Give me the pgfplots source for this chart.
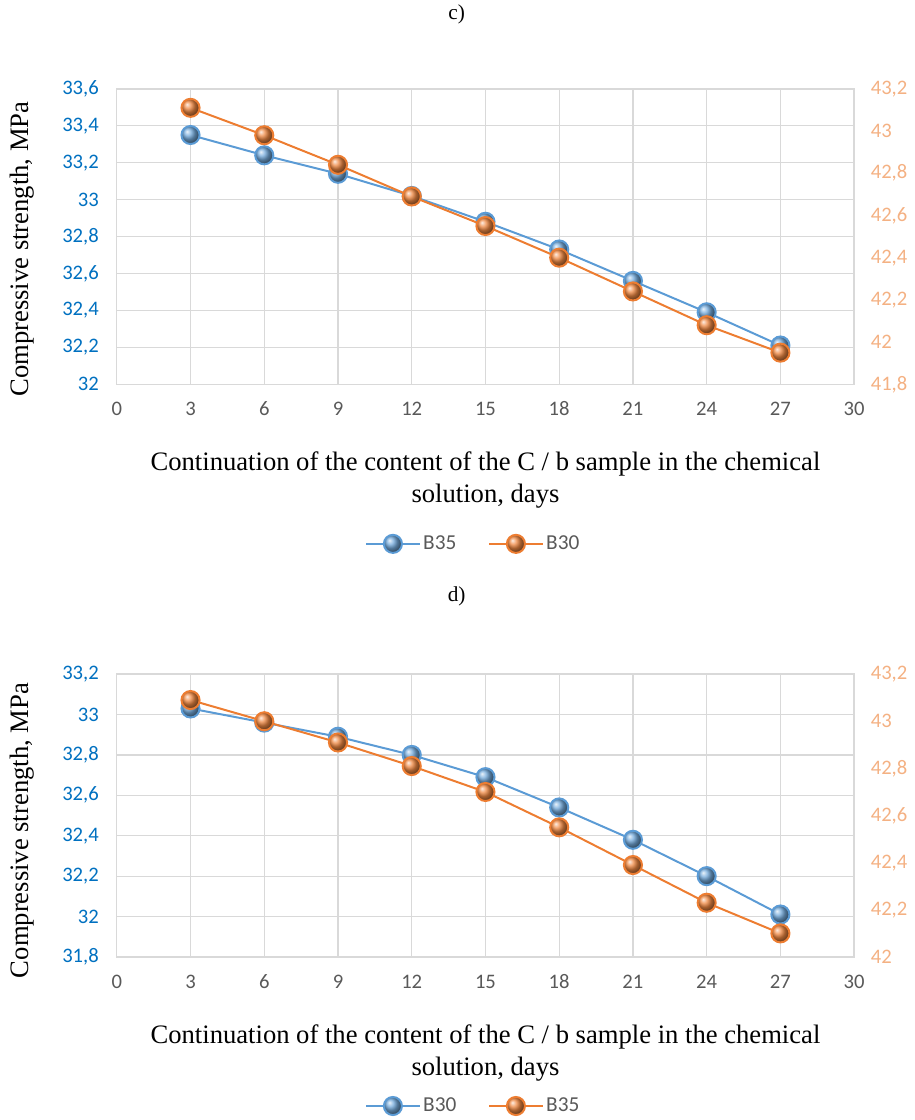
\documentclass[border=0pt]{standalone}
\usepackage{fontspec}
\setmainfont{Liberation Serif}
\newfontfamily\carlito{Carlito}
\usepackage{pgfplots}
\pgfplotsset{compat=1.18}
\definecolor{sblue}{HTML}{5B9BD5}
\definecolor{sorange}{HTML}{ED7D31}
\definecolor{tblue}{HTML}{0070C0}
\definecolor{torange}{HTML}{F4B183}
\definecolor{tgray}{HTML}{595959}
\definecolor{gridc}{HTML}{D9D9D9}
\colorlet{bblue}{sblue!85!white}
\colorlet{borange}{sorange!92!white}

\pgfplotsset{
  base/.style={scale only axis,width=554pt,xmin=0,xmax=30,
    /pgf/number format/assume math mode=true,
    major tick length=0pt,axis line style={draw=gridc,line width=1pt},
    tick label style={font=\carlito\fontsize{15.5}{18}\selectfont},
    every axis plot/.append style={line width=1.5pt,mark=ball,mark size=6.8pt},
    legend image code/.code={\draw[mark repeat=2,mark phase=2,##1] plot coordinates {(0pt,0pt)(20pt,0pt)(40pt,0pt)};}},
  leftax/.style={base,xtick={0,3,...,30},xticklabels={0,3,6,9,12,15,18,21,24,27,30},xmajorgrids,ymajorgrids,
    grid style={draw=gridc,line width=0.9pt},
    xticklabel style={text=tgray,yshift=-9pt,text height=11pt,text depth=0pt},
    yticklabel style={text=tblue,xshift=-10pt},
    ylabel={Compressive strength, MPa},
    label style={font=\fontsize{20}{24}\selectfont},
    legend columns=2,
    legend style={draw=none,fill=none,anchor=center,font=\carlito\fontsize{16}{18}\selectfont,text=tgray,
      /tikz/every even column/.append style={column sep=22pt}}},
  rightax/.style={base,axis x line=none,axis y line*=right,
    yticklabel style={text=torange,xshift=9pt}},
}

\begin{document}
\begin{tikzpicture}
\path (0,0) rectangle (687pt,840pt);

% panel c
\begin{axis}[leftax,at={(87.75pt,552.75pt)},anchor=south west,height=222pt,
  ymin=32,ymax=33.6,ytick={32,32.2,32.4,32.6,32.8,33,33.2,33.4,33.6},
  yticklabels={32,{32,2},{32,4},{32,6},{32,8},33,{33,2},{33,4},{33,6}},
  title={c)},title style={at={(axis description cs:0.461,1.226)},anchor=center,font=\fontsize{16}{18}\selectfont},
  xlabel={Continuation of the content of the C / b sample in the chemical\\solution, days},
  xlabel style={at={(axis description cs:0.5,-0.323)},anchor=center,align=center},
  ylabel style={at={(axis description cs:-0.1286,0.458)},anchor=center},
  legend style={at={(axis description cs:0.484,-0.54)}}]
\addplot[sblue,mark options={ball color=bblue}] coordinates {(3,33.35)(6,33.24)(9,33.14)(12,33.02)(15,32.88)(18,32.73)(21,32.56)(24,32.39)(27,32.21)};
\addlegendentry{B35}
\addlegendimage{sorange,line width=1.5pt,mark=ball,mark size=6.8pt,mark options={ball color=borange}}
\addlegendentry{B30}
\end{axis}
\begin{axis}[rightax,at={(87.75pt,552.75pt)},anchor=south west,height=222pt,
  ymin=41.8,ymax=43.2,ytick={41.8,42,42.2,42.4,42.6,42.8,43,43.2},
  yticklabels={{41,8},42,{42,2},{42,4},{42,6},{42,8},43,{43,2}}]
\addplot[sorange,mark options={ball color=borange}] coordinates {(3,43.11)(6,42.98)(9,42.84)(12,42.69)(15,42.55)(18,42.40)(21,42.24)(24,42.08)(27,41.95)};
\end{axis}

% panel d
\begin{axis}[leftax,at={(87.75pt,122.5pt)},anchor=south west,height=212.5pt,
  ymin=31.8,ymax=33.2,ytick={31.8,32,32.2,32.4,32.6,32.8,33,33.2},
  yticklabels={{31,8},32,{32,2},{32,4},{32,6},{32,8},33,{33,2}},
  title={d)},title style={at={(axis description cs:0.461,1.248)},anchor=center,font=\fontsize{16}{18}\selectfont},
  xlabel={Continuation of the content of the C / b sample in the chemical\\solution, days},
  xlabel style={at={(axis description cs:0.5,-0.34)},anchor=center,align=center},
  ylabel style={at={(axis description cs:-0.1286,0.447)},anchor=center},
  legend style={at={(axis description cs:0.484,-0.527)}}]
\addplot[sblue,mark options={ball color=bblue}] coordinates {(3,33.03)(6,32.96)(9,32.89)(12,32.80)(15,32.69)(18,32.54)(21,32.38)(24,32.20)(27,32.01)};
\addlegendentry{B30}
\addlegendimage{sorange,line width=1.5pt,mark=ball,mark size=6.8pt,mark options={ball color=borange}}
\addlegendentry{B35}
\end{axis}
\begin{axis}[rightax,at={(87.75pt,122.5pt)},anchor=south west,height=212.5pt,
  ymin=42,ymax=43.2,ytick={42,42.2,42.4,42.6,42.8,43,43.2},
  yticklabels={42,{42,2},{42,4},{42,6},{42,8},43,{43,2}}]
\addplot[sorange,mark options={ball color=borange}] coordinates {(3,43.09)(6,43.00)(9,42.91)(12,42.81)(15,42.70)(18,42.55)(21,42.39)(24,42.23)(27,42.10)};
\end{axis}
\end{tikzpicture}
\end{document}
